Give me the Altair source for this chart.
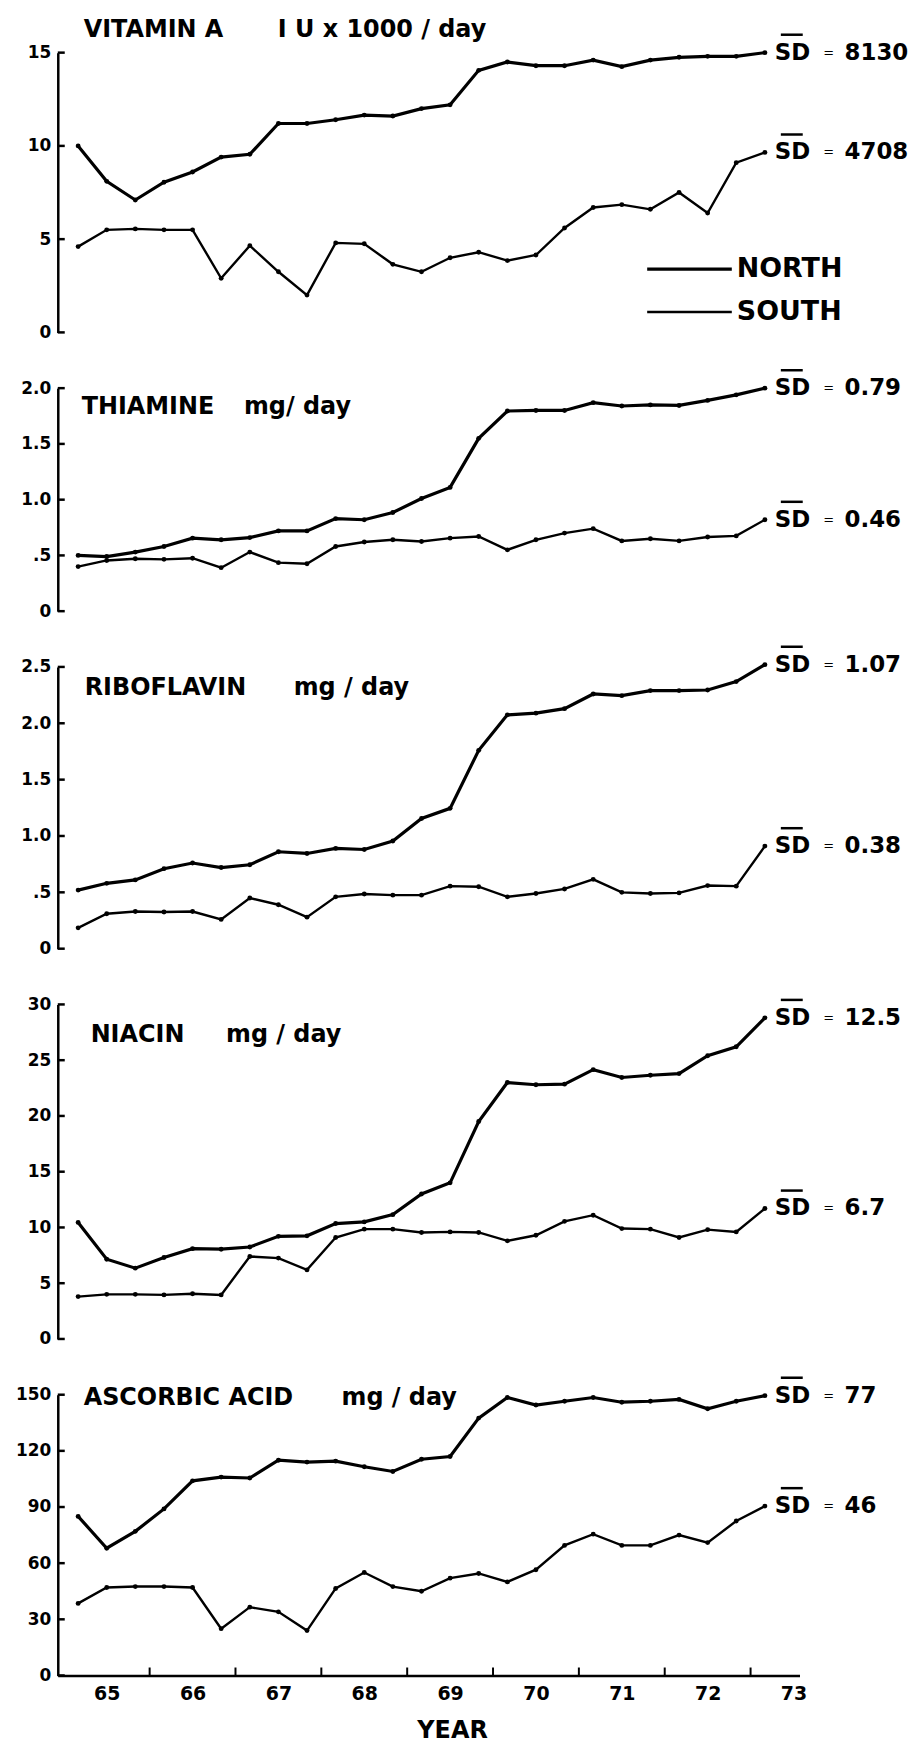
import altair as alt
import pandas as pd

FONT = "DejaVu Sans"

# period midpoints (three 4-month periods per year)
YEARS = [64.667, 65.0, 65.333, 65.667, 66.0, 66.333, 66.667, 67.0, 67.333,
         67.667, 68.0, 68.333, 68.667, 69.0, 69.333, 69.667, 70.0, 70.333,
         70.667, 71.0, 71.333, 71.667, 72.0, 72.333, 72.667]
YEAR_LABELS = [65, 66, 67, 68, 69, 70, 71, 72, 73]
YEAR_TICKS = [65.5, 66.5, 67.5, 68.5, 69.5, 70.5, 71.5, 72.5]

VITA_N = [10.0, 8.1, 7.1, 8.05, 8.6, 9.4, 9.55, 11.2, 11.2, 11.4, 11.65, 11.6, 12.0,
          12.2, 14.05, 14.5, 14.3, 14.3, 14.6, 14.25, 14.6, 14.75, 14.8, 14.8, 15.0]
VITA_S = [4.6, 5.5, 5.55, 5.5, 5.5, 2.9, 4.65, 3.25, 2.0, 4.8, 4.75, 3.65, 3.25,
          4.0, 4.3, 3.85, 4.15, 5.6, 6.7, 6.85, 6.6, 7.5, 6.4, 9.1, 9.65]
THIA_N = [0.50, 0.49, 0.53, 0.58, 0.655, 0.64, 0.66, 0.72, 0.72, 0.83, 0.82, 0.885, 1.01,
          1.11, 1.55, 1.795, 1.80, 1.80, 1.87, 1.84, 1.85, 1.845, 1.89, 1.94, 2.0]
THIA_S = [0.40, 0.455, 0.47, 0.465, 0.475, 0.39, 0.53, 0.435, 0.425, 0.58, 0.62, 0.64, 0.625,
          0.655, 0.67, 0.55, 0.64, 0.70, 0.74, 0.63, 0.65, 0.63, 0.665, 0.675, 0.82]
RIBO_N = [0.52, 0.58, 0.61, 0.71, 0.76, 0.72, 0.745, 0.86, 0.845, 0.89, 0.88, 0.955, 1.155,
          1.245, 1.76, 2.075, 2.09, 2.13, 2.26, 2.245, 2.29, 2.29, 2.295, 2.37, 2.52]
RIBO_S = [0.185, 0.31, 0.33, 0.325, 0.33, 0.26, 0.45, 0.39, 0.28, 0.46, 0.485, 0.475, 0.475,
          0.555, 0.55, 0.46, 0.49, 0.53, 0.615, 0.50, 0.49, 0.495, 0.56, 0.555, 0.91]
NIAC_N = [10.45, 7.15, 6.35, 7.3, 8.1, 8.05, 8.25, 9.2, 9.25, 10.35, 10.5, 11.15, 13.0,
          14.0, 19.5, 23.0, 22.8, 22.85, 24.15, 23.45, 23.65, 23.8, 25.4, 26.2, 28.8]
NIAC_S = [3.8, 4.0, 4.0, 3.95, 4.05, 3.95, 7.4, 7.25, 6.2, 9.1, 9.85, 9.85, 9.55,
          9.6, 9.55, 8.8, 9.3, 10.55, 11.1, 9.9, 9.85, 9.1, 9.8, 9.6, 11.7]
ASCO_N = [85, 68, 77, 89, 104, 106, 105.5, 115, 114, 114.5, 111.5, 109, 115.5,
          117, 137.5, 148.5, 144.5, 146.5, 148.5, 146, 146.5, 147.5, 142.5, 146.5, 149.5]
ASCO_S = [38.5, 47, 47.5, 47.5, 47, 25, 36.5, 34, 24, 46.5, 55, 47.5, 45,
          52, 54.5, 50, 56.5, 69.5, 75.5, 69.5, 69.5, 75, 71, 82.5, 90.5]

REGIONS = ["NORTH", "SOUTH"]

W = 745
X_DOMAIN = [64.43, 73.07]

DEC_EXPR = "datum.value == 0 ? '0' : datum.value == 0.5 ? '.5' : format(datum.value, '.1f')"


def make_panel(north, south, ticks, height, name, unit, name_x, unit_x, title_base,
               sd_n, sd_s, label_expr=None, bottom=False, legend=False):
    df = pd.DataFrame({
        "year": YEARS * 2,
        "value": north + south,
        "region": ["NORTH"] * len(north) + ["SOUTH"] * len(south),
    })
    if bottom:
        xaxis = alt.Axis(values=YEAR_LABELS, format="d", tickSize=0, labelPadding=9,
                         labelFont=FONT, labelFontSize=19, labelFontWeight="bold",
                         labelColor="black", labelFlush=False, domainWidth=2.5,
                         domainColor="black", grid=False, title="YEAR",
                         titleFont=FONT, titleFontSize=24, titleFontWeight="bold",
                         titleColor="black", titleX=396, titleY=62,
                         titleAlign="center", titleBaseline="alphabetic")
    else:
        xaxis = None
    yaxis_kw = dict(values=ticks, tickSize=0, labelPadding=7, labelFont=FONT,
                    labelFontSize=17, labelFontWeight="bold", labelColor="black",
                    domainWidth=2.5, domainColor="black", grid=False, title=None)
    if label_expr:
        yaxis_kw["labelExpr"] = label_expr
    else:
        yaxis_kw["format"] = "d"
    X = alt.X("year:Q", scale=alt.Scale(domain=X_DOMAIN, nice=False, zero=False), axis=xaxis)
    Y = alt.Y("value:Q", scale=alt.Scale(domain=[0, ticks[-1]], nice=False), axis=alt.Axis(**yaxis_kw))

    if legend:
        leg = alt.Legend(orient="none", legendX=587, legendY=204, title=None,
                         symbolType="M-5,0H5", symbolSize=289, symbolOffset=34,
                         labelOffset=34, labelFont=FONT, labelFontSize=27,
                         labelFontWeight="bold", labelColor="black", rowPadding=15,
                         symbolStrokeColor="black", symbolFillColor="transparent")
    else:
        leg = None

    base = alt.Chart(df).encode(x=X, y=Y)
    lines = base.mark_line(color="black").encode(
        strokeWidth=alt.StrokeWidth("region:N", scale=alt.Scale(domain=REGIONS, range=[3.2, 2.4]),
                                    legend=leg),
        detail="region:N",
    )
    dots = base.mark_circle(size=24, color="black", opacity=1)

    sd_df = pd.DataFrame({"year": [YEARS[-1]] * 2, "value": [north[-1], south[-1]],
                          "sd": [sd_n, sd_s]})
    sd_base = alt.Chart(sd_df).encode(x=X, y=Y)
    sd1 = sd_base.mark_text(align="left", baseline="middle", dx=10, font=FONT,
                            fontWeight="bold", fontSize=23, color="black").encode(
        text=alt.value("SD"))
    sd_bar = sd_base.mark_tick(color="black", orient="horizontal", size=22, thickness=2.5,
                               xOffset=27, yOffset=-18, opacity=1)
    sd2 = sd_base.mark_text(align="center", baseline="middle", dx=64, font=FONT,
                            fontSize=13, color="black").encode(text=alt.value("="))
    sd3 = sd_base.mark_text(align="left", baseline="middle", dx=80, font=FONT,
                            fontWeight="bold", fontSize=23, color="black").encode(text="sd:N")

    tdf = pd.DataFrame({"name": [name], "unit": [unit]})
    t1 = alt.Chart(tdf).mark_text(align="left", baseline="alphabetic", font=FONT,
                                  fontWeight="bold", fontSize=24, color="black").encode(
        x=alt.value(name_x), y=alt.value(title_base), text="name:N")
    t2 = alt.Chart(tdf).mark_text(align="left", baseline="alphabetic", font=FONT,
                                  fontWeight="bold", fontSize=24, color="black").encode(
        x=alt.value(unit_x), y=alt.value(title_base), text="unit:N")

    ytick = alt.Chart(pd.DataFrame({"value": ticks})).mark_rule(
        color="black", strokeWidth=2.5).encode(y=Y, x=alt.value(0), x2=alt.value(7))

    layers = [lines, dots, sd1, sd_bar, sd2, sd3, t1, t2, ytick]
    if bottom:
        xtick = alt.Chart(pd.DataFrame({"year": YEAR_TICKS})).mark_rule(
            color="black", strokeWidth=2).encode(x=X, y=alt.value(height),
                                                  y2=alt.value(height - 8))
        layers.append(xtick)
    return alt.layer(*layers).properties(width=W, height=height)


p1 = make_panel(VITA_N, VITA_S, [0, 5, 10, 15], 281, "VITAMIN A", "I U x 1000 / day",
                26, 221, -16, "8130", "4708", legend=True)
p2 = make_panel(THIA_N, THIA_S, [0, 0.5, 1.0, 1.5, 2.0], 224, "THIAMINE", "mg/ day",
                24, 187, 26, "0.79", "0.46", label_expr=DEC_EXPR)
p3 = make_panel(RIBO_N, RIBO_S, [0, 0.5, 1.0, 1.5, 2.0, 2.5], 283, "RIBOFLAVIN", "mg / day",
                27, 237, 28, "1.07", "0.38", label_expr=DEC_EXPR)
p4 = make_panel(NIAC_N, NIAC_S, [0, 5, 10, 15, 20, 25, 30], 336, "NIACIN", "mg / day",
                33, 169, 38, "12.5", "6.7")
p5 = make_panel(ASCO_N, ASCO_S, [0, 30, 60, 90, 120, 150], 282, "ASCORBIC ACID", "mg / day",
                26, 285, 10, "77", "46", bottom=True)

chart = alt.vconcat(p1, p2, p3, p4, p5, spacing=56, bounds="flush").resolve_scale(
    strokeWidth="independent").resolve_legend(strokeWidth="independent").properties(
    padding={"left": 7, "top": 6, "right": 5, "bottom": 0}
).configure_view(stroke=None)

chart.save("out.html", embed_options={"renderer": "svg", "actions": False})
